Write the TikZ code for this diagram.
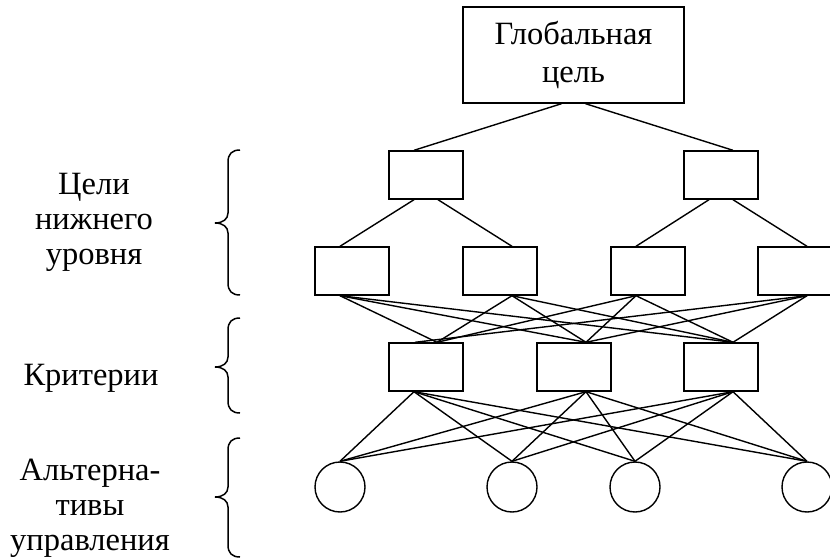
\documentclass[tikz,border=0pt]{standalone}
\usepackage{fontspec}
\setmainfont{Liberation Serif}
\usetikzlibrary{calc}
\begin{document}
\begin{tikzpicture}[x=1pt,y=-1pt,
  box/.style={draw, line width=1.4pt, minimum width=74pt, minimum height=48pt, inner sep=0pt},
  alt/.style={draw, circle, line width=1.4pt, minimum size=50pt, inner sep=0pt},
  link/.style={line width=1.4pt},
  lbl/.style={font=\fontsize{32.5}{35}\selectfont, align=center},
  brace/.style={line width=1.5pt}]
\useasboundingbox (0,0) rectangle (830,559);
\clip (0,0) rectangle (830,559);
% nodes
\node[box, minimum width=221pt, minimum height=96pt, font=\fontsize{32.5}{38}\selectfont, align=center] (G) at (573.5,55) {Глобальная\\цель};
\node[box] (A1) at (426,175) {};
\node[box] (A2) at (721,175) {};
\node[box] (B1) at (352,271) {};
\node[box] (B2) at (500,271) {};
\node[box] (B3) at (648,271) {};
\node[box] (B4) at (795,271) {};
\node[box] (C1) at (426,367) {};
\node[box] (C2) at (574,367) {};
\node[box] (C3) at (721,367) {};
\node[alt] (D1) at (340,487) {};
\node[alt] (D2) at (512,487) {};
\node[alt] (D3) at (635,487) {};
\node[alt] (D4) at (807,487) {};
% labels
\node[lbl] (L1) at (94,222) {Цели\\нижнего\\уровня};
\node[lbl] (L2) at (91,378) {Критерии};
\node[lbl] (L3) at (90,508) {Альтерна-\\тивы\\управления};
% connectors
\draw[link] ([xshift=-12pt]G.south) -- ([xshift=-12pt]A1.north);
\draw[link] ([xshift=12pt]G.south) -- ([xshift=12pt]A2.north);
\draw[link] ([xshift=-12pt]A1.south) -- ([xshift=-12pt]B1.north);
\draw[link] ([xshift=12pt]A1.south) -- ([xshift=12pt]B2.north);
\draw[link] ([xshift=-12pt]A2.south) -- ([xshift=-12pt]B3.north);
\draw[link] ([xshift=12pt]A2.south) -- ([xshift=12pt]B4.north);
\foreach \b/\s in {B1/-12, B2/12, B3/-12} {
  \draw[link] ([xshift=\s pt]\b.south) -- ([xshift=11pt]C1.north);
  \draw[link] ([xshift=\s pt]\b.south) -- ([xshift=12pt]C2.north);
  \draw[link] ([xshift=\s pt]\b.south) -- ([xshift=12pt]C3.north);
}
\draw[link] ([xshift=12pt]B4.south) -- ([xshift=-11pt]C1.north);
\draw[link] ([xshift=12pt]B4.south) -- ([xshift=12pt]C2.north);
\draw[link] ([xshift=12pt]B4.south) -- ([xshift=12pt]C3.north);
\foreach \c/\s in {C1/-12, C2/12, C3/12} {
  \foreach \d in {D1,D2,D3,D4} {
    \draw[link] ([xshift=\s pt]\c.south) -- (\d.north);
  }
}
% braces
\foreach \t/\m/\b in {150/223/295, 318/367/413, 438/497/557} {
  \draw[brace] (240,\t) .. controls (232,\t) and (228,\t+4) .. (228,\t+12)
    -- (228,\m-10) .. controls (228,\m-4) and (223,\m) .. (215,\m)
    .. controls (223,\m) and (228,\m+4) .. (228,\m+10)
    -- (228,\b-12) .. controls (228,\b-4) and (232,\b) .. (240,\b);
}
\end{tikzpicture}
\end{document}
